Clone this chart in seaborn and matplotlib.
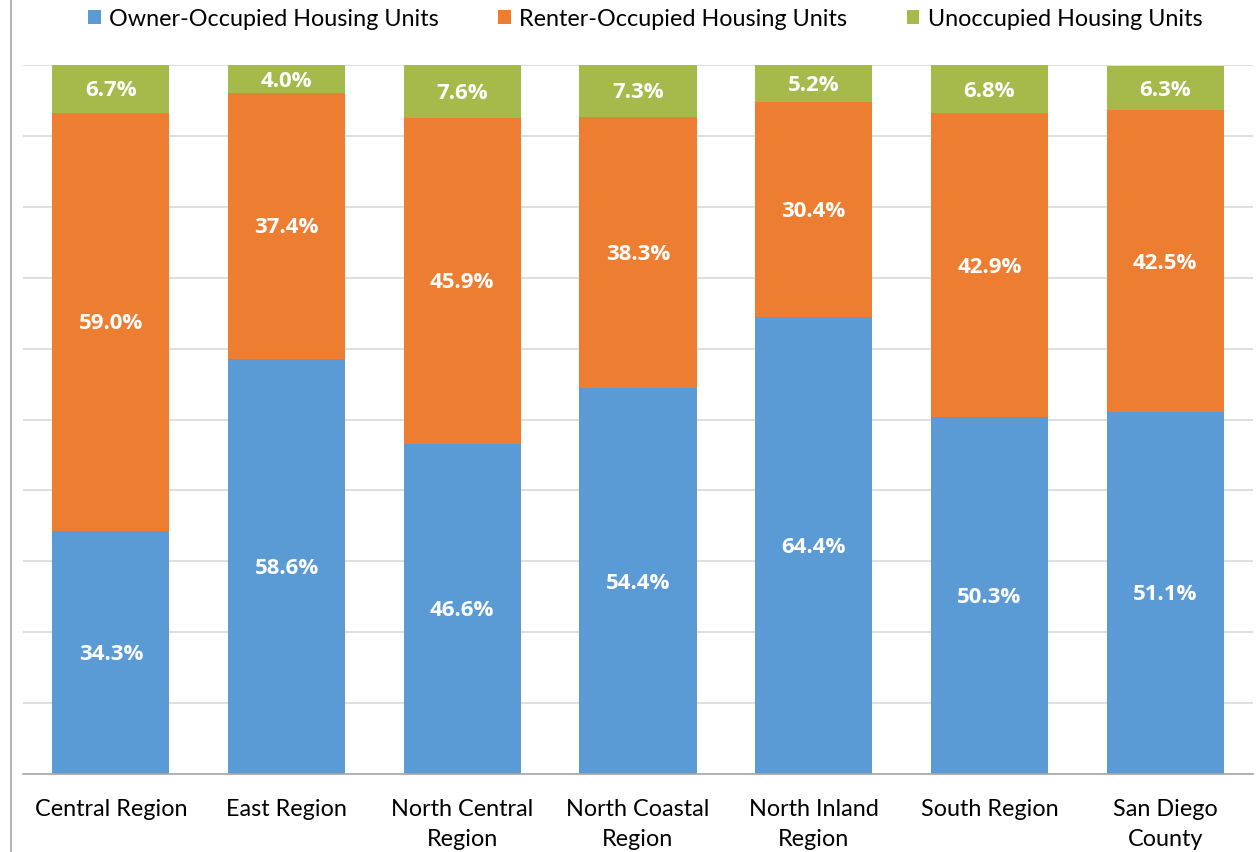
import matplotlib
matplotlib.use("Agg")
import matplotlib.pyplot as plt
import matplotlib.transforms as mtransforms
import seaborn as sns
import pandas as pd
import numpy as np
from matplotlib.lines import Line2D
from matplotlib.patches import Patch

categories = ["Central Region", "East Region", "North Central\nRegion", "North Coastal\nRegion",
              "North Inland\nRegion", "South Region", "San Diego\nCounty"]
owner = [34.3, 58.6, 46.6, 54.4, 64.4, 50.3, 51.1]
renter = [59.0, 37.4, 45.9, 38.3, 30.4, 42.9, 42.5]
unocc = [6.7, 4.0, 7.6, 7.3, 5.2, 6.8, 6.3]
series_names = ["Owner-Occupied Housing Units", "Renter-Occupied Housing Units", "Unoccupied Housing Units"]
colors = ["#5B9BD5", "#ED7D31", "#A5BA4B"]

sns.set_theme(style="white")
plt.rcParams['font.family'] = ['Lato', 'DejaVu Sans']

fig = plt.figure(figsize=(12.6, 8.52), dpi=100)
ax = fig.add_axes([23/1260, 1 - 774/852, (1253 - 23)/1260, (774 - 65)/852])

label_tr = ax.transData + mtransforms.ScaledTranslation(0, -2/100, fig.dpi_scale_trans)
bottoms = [np.zeros(len(categories)), np.array(owner), np.array(owner) + np.array(renter)]
vals = [owner, renter, unocc]
for v, b, c in zip(vals, bottoms, colors):
    sns.barplot(x=categories, y=v, bottom=b, color=c, width=0.667, ax=ax,
                order=categories, saturation=1, zorder=3, linewidth=0)
    for i, (vv, bb) in enumerate(zip(v, b)):
        ax.text(i, bb + vv / 2, f"{vv:.1f}%", ha="center", va="center", color="white",
                fontsize=16, fontweight="bold", family=["Open Sans", "DejaVu Sans"],
                zorder=5, transform=label_tr)

ax.set_ylim(0, 100)
ax.set_xlim(-0.5, len(categories) - 0.5)
ax.set_yticks(np.arange(0, 101, 10))
ax.set_yticklabels([])
ax.yaxis.grid(True, color="#d9d9d9", linewidth=1.2, zorder=0)
ax.set_axisbelow(True)
for s in ["top", "right", "left"]:
    ax.spines[s].set_visible(False)
ax.spines["bottom"].set_color("#a6a6a6")
ax.spines["bottom"].set_linewidth(1.2)
ax.spines["bottom"].set_zorder(6)
ax.tick_params(axis="x", length=0, pad=18, labelsize=16.8, labelcolor="#000000")
ax.tick_params(axis="y", length=0)
for t in ax.get_xticklabels():
    t.set_linespacing(1.55)
    t.set_va("top")
ax.set_xlabel("")
ax.set_ylabel("")

handles = [Patch(facecolor=c, edgecolor="none") for c in colors]
fig.legend(handles, series_names, loc="center", bbox_to_anchor=(645/1260, 1 - 19/852), ncol=3,
           frameon=False, fontsize=16.8, handlelength=0.55, handleheight=0.55,
           handletextpad=0.35, columnspacing=2.55, labelcolor="#000000")

fig.add_artist(Line2D([11/1260, 11/1260], [0, 1], color="#a6a6a6", linewidth=1.2))

fig.savefig("out.png", dpi=100)
